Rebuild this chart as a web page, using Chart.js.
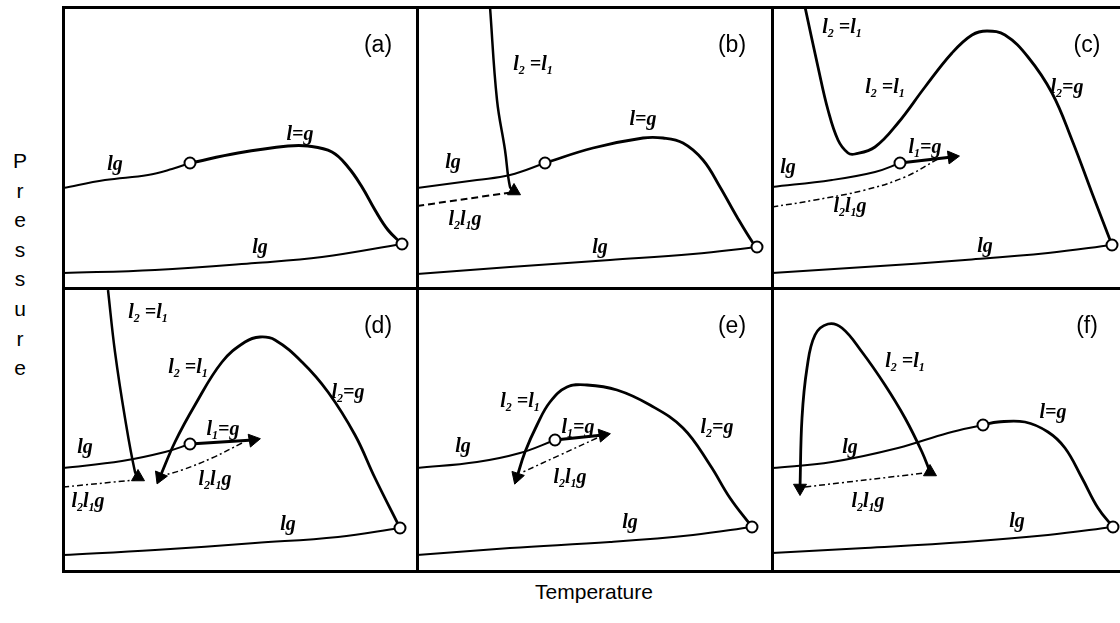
<!DOCTYPE html>
<html>
<head>
<meta charset="utf-8">
<script src="https://cdn.jsdelivr.net/npm/chart.js@4.4.1/dist/chart.umd.min.js"></script>
<style>
  body { margin: 0; background: #fff; width: 1120px; height: 623px; position: relative; overflow: hidden;
         font-family: "Liberation Sans", Arial, sans-serif; color: #000; }
  .panel { position: absolute; }
  .rule { position: absolute; background: #000; }
  #pressure { position: absolute; left: 8px; top: 146px; width: 24px; text-align: center;
              font-size: 21px; line-height: 29.6px; }
  #temperature { position: absolute; left: 0; width: 1188px; top: 580px; text-align: center; font-size: 21px; }
</style>
</head>
<body>

<div id="pressure">P<br>r<br>e<br>s<br>s<br>u<br>r<br>e</div>
<div id="temperature">Temperature</div>

<div class="panel" style="left:63px; top:7px; width:355px; height:281px;"><canvas id="pa"></canvas></div>
<div class="panel" style="left:417px; top:7px; width:355px; height:281px;"><canvas id="pb"></canvas></div>
<div class="panel" style="left:772px; top:7px; width:355px; height:281px;"><canvas id="pc"></canvas></div>
<div class="panel" style="left:63px; top:288px; width:355px; height:283px;"><canvas id="pd"></canvas></div>
<div class="panel" style="left:417px; top:288px; width:355px; height:283px;"><canvas id="pe"></canvas></div>
<div class="panel" style="left:772px; top:288px; width:355px; height:283px;"><canvas id="pf"></canvas></div>

<div class="rule" style="left:62px; top:6px; width:1058px; height:3px;"></div>
<div class="rule" style="left:62px; top:287px; width:1058px; height:3px;"></div>
<div class="rule" style="left:62px; top:570px; width:1058px; height:3px;"></div>
<div class="rule" style="left:62px; top:6px; width:3px; height:567px;"></div>
<div class="rule" style="left:416px; top:6px; width:3px; height:567px;"></div>
<div class="rule" style="left:771px; top:6px; width:3px; height:567px;"></div>

<script>
// temperature (x) / pressure (y) in panel units

// (a)
var aLgUpper = [[0,100],[42,108],[85,113],[109,119],[127,125]];
var aLeqG = [[127,125],[175,135],[225,142],[245,142],[269,136],[285,121],[299,101],[312,78],[325,58],[339,44]];
var aLgLower = [[0,15],[92,18],[192,25],[259,31],[339,44]];
var aCircles = [[127,125],[339,44]];
var aLabels = [["lg",52,123],["l=g",237,153],["lg",197,40]];

// (b)
var bL2L1 = [[73,281],[80,188],[88,138],[93,101],[97,97]];
var bLgUpper = [[0,100],[60,108],[93,113],[128,125]];
var bLeqG = [[128,125],[176,140],[226,150],[246,150],[266,145],[286,128],[303,101],[320,71],[336,45],[340,41]];
var bThreePhase = [[0,82],[97,96]];
var bLgLower = [[0,14],[93,21],[193,28],[276,34],[340,41]];
var bCircles = [[128,125],[340,41]];
var bArrows = [[97,97]];
var bArrowRot = [0];
var bLabels = [["l_2 =l_1",116,223],["l=g",226,168],["lg",36,125],["l_2l_1g",48,68],["lg",183,40]];

// (c)
var cL2L1 = [[33,281],[46,221],[56,178],[66,148],[76,135],[83,134],[103,141],[126,165],[153,201],[180,235],[200,253],[215,257],[233,253],[256,231],[280,195],[300,148],[320,95],[340,43]];
var cLgUpper = [[0,101],[60,108],[103,116],[128,125]];
var cL1G = [[128,125],[180,131]];
var cThreePhase = [[0,81],[43,88],[93,98],[133,111],[166,129]];
var cLgLower = [[0,15],[93,21],[193,28],[276,35],[340,43]];
var cCircles = [[128,125],[340,43]];
var cArrows = [[180,131]];
var cArrowRot = [83];
var cLabels = [["l_2 =l_1",70,260],["l_2 =l_1",113,200],["l_2=g",295,200],["l_1=g",153,140],["lg",16,120],["l_2l_1g",78,81],["lg",213,41]];

// (d)
var dL2L1 = [[45,281],[52,219],[62,153],[72,99],[75,94]];
var dLoop = [[97,94],[112,129],[132,166],[159,209],[182,229],[197,234],[212,231],[239,209],[265,179],[292,136],[312,93],[337,43]];
var dLgUpper = [[0,103],[59,110],[102,119],[127,127]];
var dL1G = [[127,127],[190,131]];
var dThreeRight = [[179,128],[149,113],[119,101],[102,96]];
var dThreeLeft = [[0,84],[72,91]];
var dLgLower = [[0,16],[92,21],[192,28],[275,34],[337,43]];
var dCircles = [[127,127],[337,43]];
var dArrows = [[75,94],[97,94],[190,131]];
var dArrowRot = [0,203,80];
var dLabels = [["l_2 =l_1",85,258],["l_2 =l_1",125,203],["l_2=g",285,178],["l_1=g",160,141],["lg",22,123],["l_2l_1g",152,91],["l_2l_1g",25,69],["lg",225,46]];

// (e)
var eLoop = [[100,94],[108,119],[120,146],[133,169],[150,184],[170,186],[200,181],[233,166],[266,143],[293,106],[313,73],[335,44]];
var eLgUpper = [[0,103],[60,109],[103,118],[138,131]];
var eL1G = [[138,131],[186,136]];
var eThreePhase = [[180,133],[143,116],[106,99]];
var eLgLower = [[0,16],[93,23],[193,29],[276,36],[335,44]];
var eCircles = [[138,131],[335,44]];
var eArrows = [[100,94],[186,136]];
var eArrowRot = [198,80];
var eLabels = [["l_2 =l_1",103,169],["l_1=g",161,143],["l_2=g",300,143],["lg",46,124],["l_2l_1g",153,93],["lg",213,48]];

// (f)
var fLoop = [[28,83],[30,153],[35,203],[43,236],[56,247],[70,243],[90,219],[113,186],[133,153],[150,119],[158,99]];
var fThreePhase = [[33,84],[153,98]];
var fLgUpper = [[0,103],[60,109],[126,123],[176,138],[211,146]];
var fLeqG = [[211,146],[226,149],[253,149],[276,139],[293,123],[310,93],[326,63],[341,44]];
var fLgLower = [[0,18],[93,23],[193,29],[276,36],[341,44]];
var fCircles = [[211,146],[341,44]];
var fArrows = [[28,83],[158,99]];
var fArrowRot = [180,0];
var fLabels = [["l_2 =l_1",133,209],["l=g",281,158],["lg",78,123],["l_2l_1g",96,69],["lg",245,49]];

var tags = ["(a)","(b)","(c)","(d)","(e)","(f)"];

function toXY(points) {
  return points.map(function (p) { return { x: p[0], y: p[1] }; });
}

function curve(points, width, dash) {
  return {
    data: toXY(points),
    showLine: true,
    borderColor: "#000",
    borderWidth: width,
    borderDash: dash || [],
    tension: 0.4,
    pointRadius: 0,
    pointHoverRadius: 0,
    fill: false,
    order: 2,
  };
}

function circles(points) {
  return {
    data: toXY(points),
    showLine: false,
    pointStyle: "circle",
    pointRadius: 5.5,
    pointBorderWidth: 2,
    pointBackgroundColor: "#fff",
    pointBorderColor: "#000",
    order: 0,
  };
}

function arrows(points, rot) {
  return {
    data: toXY(points),
    showLine: false,
    pointStyle: "triangle",
    pointRadius: 7.5,
    pointBorderWidth: 1,
    pointBackgroundColor: "#000",
    pointBorderColor: "#000",
    pointRotation: rot,
    order: 1,
  };
}

// "l_2" -> l with subscript 2
function drawRich(ctx, text, cx, cy) {
  var parts = [];
  for (var i = 0; i < text.length; i++) {
    if (text[i] === "_") {
      parts.push({ t: text[i + 1], sub: true });
      i++;
    } else {
      parts.push({ t: text[i], sub: false });
    }
  }
  var mainFont = 'italic bold 20px "Liberation Serif", "DejaVu Serif", serif';
  var subFont = 'italic bold 12px "Liberation Serif", "DejaVu Serif", serif';
  var total = 0;
  parts.forEach(function (p) {
    ctx.font = p.sub ? subFont : mainFont;
    p.w = ctx.measureText(p.t).width;
    total += p.w;
  });
  var x = cx - total / 2;
  ctx.textBaseline = "middle";
  ctx.textAlign = "left";
  parts.forEach(function (p) {
    ctx.font = p.sub ? subFont : mainFont;
    ctx.fillText(p.t, x, p.sub ? cy + 6 : cy);
    x += p.w;
  });
}

function makePanel(id, height, datasets, labels, tag) {
  return new Chart(document.getElementById(id), {
    type: "scatter",
    data: { datasets: datasets },
    options: {
      responsive: true,
      maintainAspectRatio: false,
      animation: false,
      events: [],
      layout: { padding: 0, autoPadding: false },
      plugins: {
        legend: { display: false },
        tooltip: { enabled: false },
      },
      scales: {
        x: { type: "linear", min: 0, max: 355, display: false },
        y: { type: "linear", min: 0, max: height, display: false },
      },
    },
    plugins: [
      {
        id: "phaseLabels",
        afterDatasetsDraw: function (chart) {
          var ctx = chart.ctx;
          var xs = chart.scales.x;
          var ys = chart.scales.y;
          ctx.save();
          ctx.fillStyle = "#000";
          labels.forEach(function (l) {
            drawRich(ctx, l[0], xs.getPixelForValue(l[1]), ys.getPixelForValue(l[2]));
          });
          ctx.font = '23px "Liberation Sans", Arial, sans-serif';
          ctx.textAlign = "center";
          ctx.textBaseline = "middle";
          ctx.fillText(tag, chart.chartArea.left + 315, chart.chartArea.top + 39);
          ctx.restore();
        },
      },
    ],
  });
}

var DASH_DOT = [6, 3, 2, 3];

makePanel("pa", 281, [
  circles(aCircles),
  curve(aLgUpper, 2),
  curve(aLeqG, 3),
  curve(aLgLower, 2),
], aLabels, tags[0]);

makePanel("pb", 281, [
  circles(bCircles),
  arrows(bArrows, bArrowRot),
  curve(bL2L1, 2.5),
  curve(bLgUpper, 2),
  curve(bLeqG, 2.8),
  curve(bThreePhase, 2, [7, 4]),
  curve(bLgLower, 2),
], bLabels, tags[1]);

makePanel("pc", 281, [
  circles(cCircles),
  arrows(cArrows, cArrowRot),
  curve(cL2L1, 2.8),
  curve(cLgUpper, 2),
  curve(cL1G, 3),
  curve(cThreePhase, 1.5, DASH_DOT),
  curve(cLgLower, 2),
], cLabels, tags[2]);

makePanel("pd", 283, [
  circles(dCircles),
  arrows(dArrows, dArrowRot),
  curve(dL2L1, 2.5),
  curve(dLoop, 2.8),
  curve(dLgUpper, 2),
  curve(dL1G, 3),
  curve(dThreeRight, 1.5, DASH_DOT),
  curve(dThreeLeft, 1.5, DASH_DOT),
  curve(dLgLower, 2),
], dLabels, tags[3]);

makePanel("pe", 283, [
  circles(eCircles),
  arrows(eArrows, eArrowRot),
  curve(eLoop, 2.8),
  curve(eLgUpper, 2),
  curve(eL1G, 3),
  curve(eThreePhase, 1.5, DASH_DOT),
  curve(eLgLower, 2),
], eLabels, tags[4]);

makePanel("pf", 283, [
  circles(fCircles),
  arrows(fArrows, fArrowRot),
  curve(fLoop, 2.8),
  curve(fThreePhase, 1.5, DASH_DOT),
  curve(fLgUpper, 2),
  curve(fLeqG, 2.8),
  curve(fLgLower, 2),
], fLabels, tags[5]);
</script>
</body>
</html>
